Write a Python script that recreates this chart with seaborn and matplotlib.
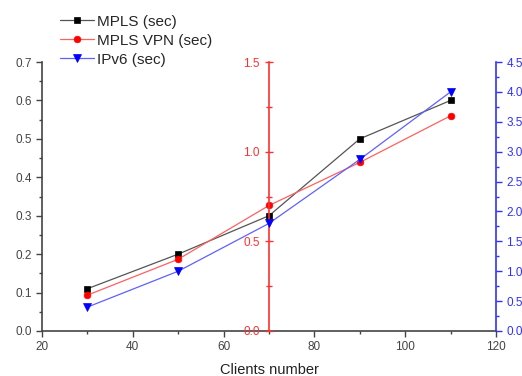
import matplotlib
matplotlib.use('Agg')
import matplotlib.pyplot as plt
from matplotlib.ticker import MultipleLocator
import seaborn as sns

# values
clients = [30, 50, 70, 90, 110]
mpls = [0.11, 0.20, 0.30, 0.50, 0.60]        # left axis
mpls_vpn = [0.20, 0.40, 0.70, 0.94, 1.20]    # red axis at x=70
ipv6 = [0.40, 1.00, 1.80, 2.87, 4.00]        # right axis

sns.set_style('ticks')
plt.rcParams['font.family'] = ['Liberation Sans', 'DejaVu Sans']

c_black = '#444444'
c_red = '#ff3030'
c_blue = '#3030ff'

fig = plt.figure(figsize=(5.22, 3.76), dpi=100)
ax = fig.add_axes([0.0805, 0.1197, 0.8695, 0.7153])
ax_r = ax.twinx()
ax_b = ax.twinx()

sns.lineplot(x=clients, y=mpls, ax=ax, color='#555555', lw=0.9,
             marker='s', markersize=4.2, markerfacecolor='black',
             markeredgecolor='black', markeredgewidth=0.5,
             label='MPLS (sec)', legend=False)
sns.lineplot(x=clients, y=mpls_vpn, ax=ax_r, color='#ff6060', lw=0.9,
             marker='o', markersize=4.8, markerfacecolor='red',
             markeredgecolor='red', markeredgewidth=0.5,
             label='MPLS VPN (sec)', legend=False)
sns.lineplot(x=clients, y=ipv6, ax=ax_b, color='#6060ff', lw=0.9,
             marker='v', markersize=5.2, markerfacecolor='blue',
             markeredgecolor='blue', markeredgewidth=0.5,
             label='IPv6 (sec)', legend=False)

ax.set_xlim(20, 120)
ax.set_ylim(0, 0.7)
ax_r.set_ylim(0, 1.5)
ax_b.set_ylim(0, 4.5)

# left / bottom axes
for s in ['top', 'right']:
    ax.spines[s].set_visible(False)
ax.spines['left'].set_color(c_black)
ax.spines['bottom'].set_color(c_black)
ax.spines['left'].set_linewidth(1.2)
ax.spines['bottom'].set_linewidth(1.2)
ax.xaxis.set_major_locator(MultipleLocator(20))
ax.xaxis.set_minor_locator(MultipleLocator(10))
ax.yaxis.set_major_locator(MultipleLocator(0.1))
ax.yaxis.set_minor_locator(MultipleLocator(0.05))
ax.yaxis.set_major_formatter(plt.FormatStrFormatter('%.1f'))
ax.tick_params(which='both', direction='out', colors=c_black, labelsize=8.5, width=1)
ax.tick_params(which='major', length=4)
ax.tick_params(which='minor', length=2.5)
ax.set_xlabel('Clients number', fontsize=10.5, color='#222222', labelpad=7)
ax.set_ylabel('')

# red axis at x = 70
for s in ['top', 'right', 'bottom']:
    ax_r.spines[s].set_visible(False)
ax_r.spines['left'].set_visible(True)
ax_r.spines['left'].set_position(('data', 70))
ax_r.spines['left'].set_color(c_red)
ax_r.spines['left'].set_linewidth(1.2)
ax_r.yaxis.tick_left()
ax_r.yaxis.set_major_locator(MultipleLocator(0.5))
ax_r.yaxis.set_minor_locator(MultipleLocator(0.25))
ax_r.yaxis.set_major_formatter(plt.FormatStrFormatter('%.1f'))
ax_r.tick_params(which='both', direction='inout', colors=c_red, labelsize=8.5, width=1)
ax_r.tick_params(which='major', length=6)
ax_r.tick_params(which='minor', length=4)
ax_r.set_ylabel('')

# blue axis on the right
for s in ['top', 'left', 'bottom']:
    ax_b.spines[s].set_visible(False)
ax_b.spines['right'].set_color(c_blue)
ax_b.spines['right'].set_linewidth(1.2)
ax_b.yaxis.set_major_locator(MultipleLocator(0.5))
ax_b.yaxis.set_minor_locator(MultipleLocator(0.25))
ax_b.yaxis.set_major_formatter(plt.FormatStrFormatter('%.1f'))
ax_b.tick_params(which='both', direction='out', colors=c_blue, labelsize=8.5, width=1)
ax_b.tick_params(which='major', length=4)
ax_b.tick_params(which='minor', length=2.5)
ax_b.set_ylabel('')

handles = []
labels = []
for a in [ax, ax_r, ax_b]:
    h, l = a.get_legend_handles_labels()
    handles += h
    labels += l
fig.legend(handles, labels, loc='upper left', bbox_to_anchor=(0.098, 0.985),
           frameon=False, fontsize=11, handlelength=2.2, handletextpad=0.2,
           labelspacing=0.32, borderaxespad=0.2)

fig.savefig('out.png', dpi=100)
